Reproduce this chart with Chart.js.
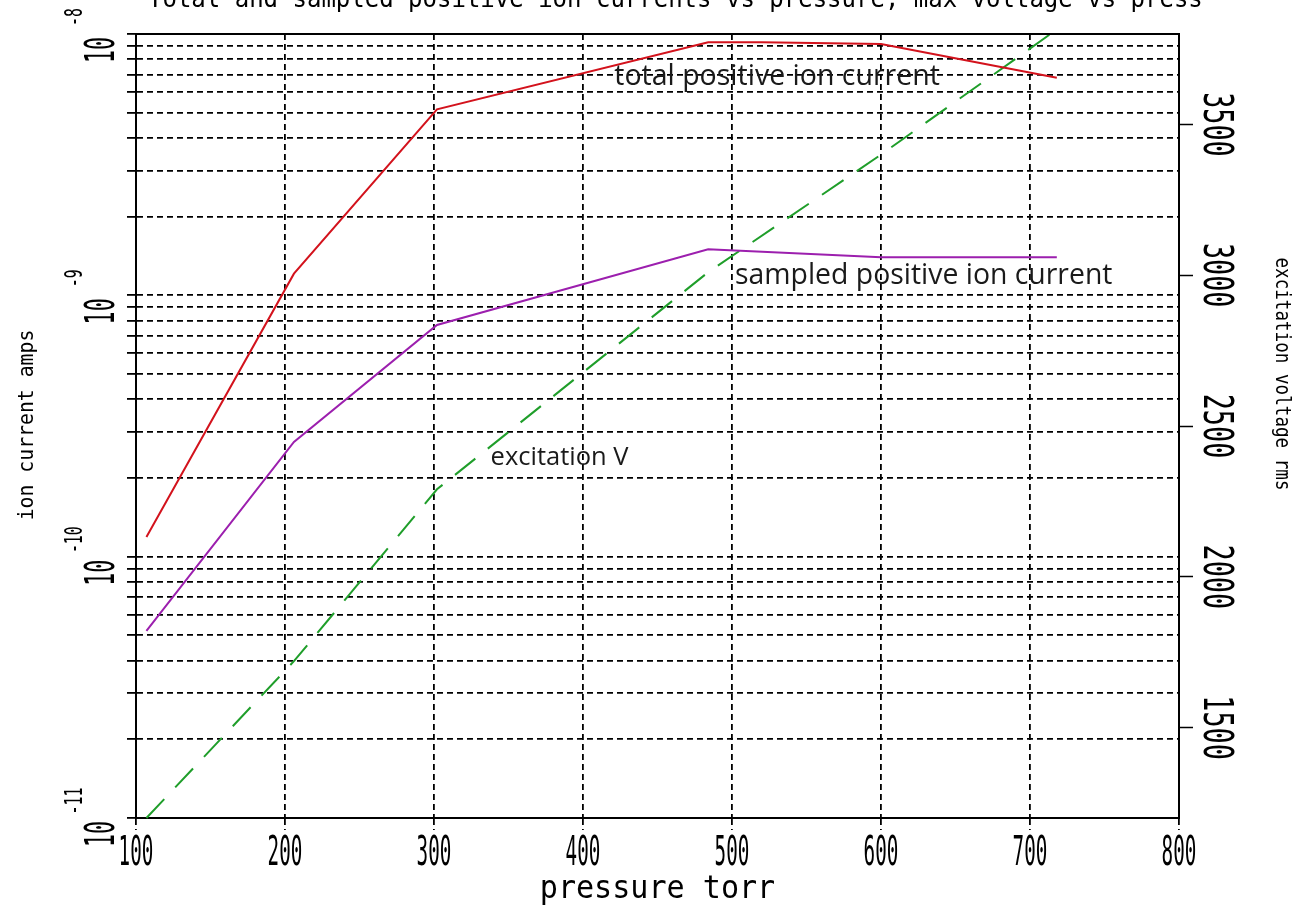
<!DOCTYPE html>
<html>
<head>
<meta charset="utf-8">
<script src="https://cdn.jsdelivr.net/npm/chart.js@4.4.1/dist/chart.umd.min.js"></script>
<style>
  html, body { margin: 0; padding: 0; background: #fff; }
  canvas { display: block; }
</style>
</head>
<body>
<canvas id="chart" width="1313" height="919"></canvas>
<script>
// pressure (torr) at which readings were taken
const pressure = [107, 206, 302, 484, 520, 600, 718];
// ion currents in amps
const totalIon = [1.19e-10, 1.21e-9, 5.15e-9, 9.3e-9, 9.3e-9, 9.15e-9, 6.8e-9];
const sampledIon = [5.2e-11, 2.75e-10, 7.7e-10, 1.5e-9, null, 1.4e-9, 1.4e-9];
// excitation voltage rms
const excitationV = [1200, 1720, 2290, 3010, null, 3400, 3815];

// axis ticks
const xTicks = [100, 200, 300, 400, 500, 600, 700, 800];
const logDecades = [1e-11, 1e-10, 1e-9];
const mantissas = [1, 2, 3, 4, 5, 6, 7, 8, 9];
const leftMajor = [1e-11, 1e-10, 1e-9, 1e-8];
const leftExp = ['-11', '-10', '-9', '-8'];
const rightTicks = [1500, 2000, 2500, 3000, 3500];

const titleText = 'Total and sampled positive ion currents vs pressure, max voltage vs press';
const xTitle = 'pressure torr';
const yTitle = 'ion current amps';
const y2Title = 'excitation voltage rms';

// text labels placed in data space
const notes = [
  { text: 'total positive ion current', x: 421, y: 6.84e-9, axis: 'y', size: 28.5 },
  { text: 'sampled positive ion current', x: 502, y: 1.19e-9, axis: 'y', size: 28.4 },
  { text: 'excitation V', x: 338, y: 2394, axis: 'y2', size: 25.5 }
];

const leftGrid = [];
logDecades.forEach(d => mantissas.forEach(m => leftGrid.push(+(m * d).toPrecision(3))));
leftGrid.push(1e-8);

const MONO = '"DejaVu Sans Mono", monospace';

function putText(ctx, text, x, y, rot, font, sx, align, baseline) {
  ctx.save();
  ctx.translate(x, y);
  ctx.rotate(rot);
  ctx.scale(sx, 1);
  ctx.font = font;
  ctx.fillStyle = '#000';
  ctx.textAlign = align || 'center';
  ctx.textBaseline = baseline || 'middle';
  ctx.fillText(text, 0, 0);
  ctx.restore();
}

const decor = {
  id: 'decor',
  beforeDraw(chart) {
    const ctx = chart.ctx;
    ctx.save();
    ctx.fillStyle = '#fff';
    ctx.fillRect(0, 0, chart.width, chart.height);
    ctx.restore();
  },
  afterDraw(chart) {
    const ctx = chart.ctx;
    const a = chart.chartArea;
    const sx = chart.scales.x, sy = chart.scales.y, sy2 = chart.scales.y2;

    // top frame line
    ctx.save();
    ctx.strokeStyle = '#000';
    ctx.lineWidth = 2;
    ctx.beginPath();
    ctx.moveTo(a.left, a.top);
    ctx.lineTo(a.right, a.top);
    ctx.stroke();
    ctx.restore();

    // x tick labels
    xTicks.forEach(v => {
      putText(ctx, String(v), sx.getPixelForValue(v), a.bottom + 36, 0, '41px ' + MONO, 0.47);
    });
    // left log labels
    leftMajor.forEach((v, i) => {
      const py = sy.getPixelForValue(v);
      putText(ctx, '10', a.left - 33, py + 16, -Math.PI / 2, '41px ' + MONO, 0.53);
      putText(ctx, leftExp[i], a.left - 60, py - 17, -Math.PI / 2, '24px ' + MONO, 0.62);
    });
    // right labels
    rightTicks.forEach(v => {
      putText(ctx, String(v), a.right + 35, sy2.getPixelForValue(v), Math.PI / 2, '40px ' + MONO, 0.67);
    });

    // axis titles
    putText(ctx, xTitle, (a.left + a.right) / 2, 898, 0, '32px ' + MONO, 0.94, 'center', 'alphabetic');
    putText(ctx, yTitle, 27, 425, -Math.PI / 2, '22px ' + MONO, 0.9);
    putText(ctx, y2Title, 1282, 374, Math.PI / 2, '22px ' + MONO, 0.8);
    putText(ctx, titleText, 148, 7, 0, '24px ' + MONO, 1, 'left', 'alphabetic');

    // notes
    notes.forEach(n => {
      const px = sx.getPixelForValue(n.x);
      const py = chart.scales[n.axis].getPixelForValue(n.y);
      ctx.save();
      ctx.font = n.size + 'px "Open Sans", sans-serif';
      ctx.fillStyle = '#1a1a1a';
      ctx.textAlign = 'left';
      ctx.textBaseline = 'middle';
      ctx.fillText(n.text, px, py);
      ctx.restore();
    });
  }
};

const gridDash = [6, 4];

new Chart(document.getElementById('chart'), {
  type: 'line',
  data: {
    labels: pressure,
    datasets: [
      {
        label: 'total positive ion current',
        data: pressure.map((p, i) => ({ x: p, y: totalIon[i] })),
        borderColor: '#d3121c',
        borderWidth: 2,
        yAxisID: 'y'
      },
      {
        label: 'sampled positive ion current',
        data: pressure.map((p, i) => ({ x: p, y: sampledIon[i] })).filter(d => d.y !== null),
        borderColor: '#9c1fae',
        borderWidth: 2,
        yAxisID: 'y'
      },
      {
        label: 'excitation V',
        data: pressure.map((p, i) => ({ x: p, y: excitationV[i] })).filter(d => d.y !== null),
        borderColor: '#1f9e2a',
        borderWidth: 2,
        borderDash: [26, 16],
        yAxisID: 'y2',
        clip: false
      }
    ]
  },
  options: {
    responsive: false,
    animation: false,
    devicePixelRatio: 1,
    layout: { padding: { left: 127, top: 34, right: 120, bottom: 89 } },
    elements: {
      point: { radius: 0, hoverRadius: 0 },
      line: { tension: 0, fill: false }
    },
    plugins: {
      legend: { display: false },
      tooltip: { enabled: false },
      title: { display: false }
    },
    scales: {
      x: {
        type: 'linear',
        position: 'bottom',
        min: 100,
        max: 800,
        afterBuildTicks: s => { s.ticks = xTicks.map(v => ({ value: v })); },
        ticks: { display: false },
        grid: {
          color: '#000', lineWidth: 1.8, tickLength: 12,
          tickColor: '#000', tickWidth: 1.8, tickBorderDash: gridDash
        },
        border: { display: true, color: '#000', width: 2, dash: gridDash }
      },
      y: {
        type: 'logarithmic',
        position: 'left',
        min: 1e-11,
        max: 1e-8,
        afterBuildTicks: s => { s.ticks = leftGrid.map(v => ({ value: v })); },
        ticks: { display: false },
        grid: {
          color: '#000', lineWidth: 1.8, tickLength: 9,
          tickColor: '#000', tickWidth: 1.8
        },
        border: { display: true, color: '#000', width: 2, dash: gridDash }
      },
      y2: {
        type: 'linear',
        position: 'right',
        min: 1200,
        max: 3800,
        afterBuildTicks: s => { s.ticks = rightTicks.map(v => ({ value: v })); },
        ticks: { display: false },
        grid: {
          drawOnChartArea: false, tickLength: 14,
          tickColor: '#000', tickWidth: 1.5
        },
        border: { display: true, color: '#000', width: 2 }
      }
    }
  },
  plugins: [decor]
});
</script>
</body>
</html>
